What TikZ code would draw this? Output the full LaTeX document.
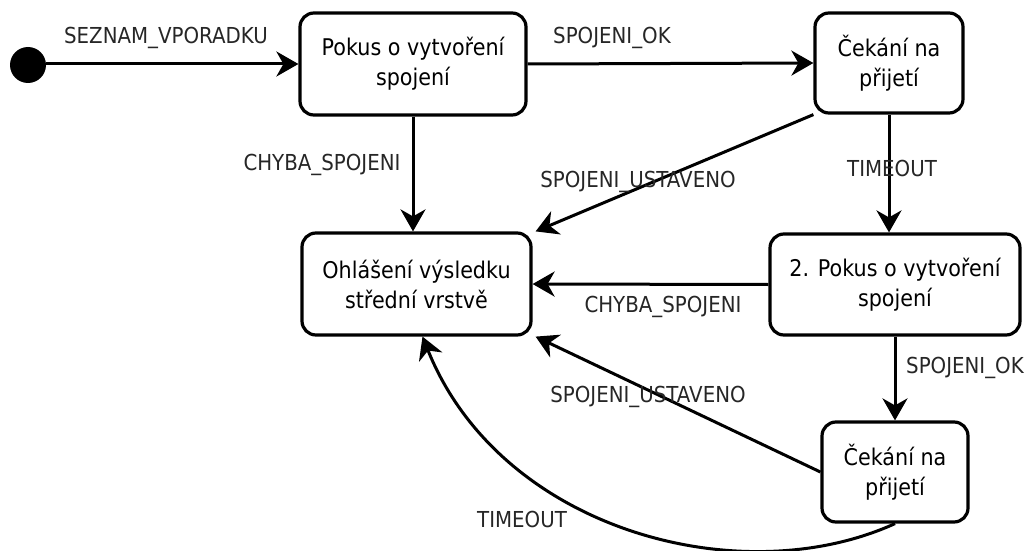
\documentclass[tikz,border=0pt]{standalone}
\usepackage{fontspec}
\setmainfont{DejaVu Sans}[FakeStretch=0.9]
\usetikzlibrary{arrows.meta}
\begin{document}
\begin{tikzpicture}[x=1pt,y=-1pt,
  every node/.style={inner sep=0pt},
  state/.style={draw, line width=3.2pt, rounded corners=14pt, align=center,
    font=\fontsize{23}{30}\selectfont},
  lbl/.style={text=black!85, font=\fontsize{22}{26}\selectfont},
  trans/.style={line width=3pt, -{Stealth[length=22pt,width=25pt,inset=7pt]}}]
  \useasboundingbox (0,0) rectangle (1034,551);

  % states
  \node[circle, fill, minimum size=36pt] (init) at (28,65) {};
  \node[state, minimum width=226pt, minimum height=102pt] (pokus1) at (413,64) {Pokus o vytvoření\\spojení};
  \node[state, minimum width=148pt, minimum height=100pt] (cekani1) at (889,63) {Čekání na\\přijetí};
  \node[state, minimum width=229pt, minimum height=102pt] (hlaseni) at (416.5,284) {Ohlášení výsledku\\střední vrstvě};
  \node[state, minimum width=250pt, minimum height=101pt] (pokus2) at (895,284.5) {2. Pokus o vytvoření\\spojení};
  \node[state, minimum width=146pt, minimum height=100pt] (cekani2) at (895,472) {Čekání na\\přijetí};

  % transitions
  \draw[trans] (init.east |- pokus1.west) -- (pokus1.west);
  \draw[trans] (pokus1.east) -- (cekani1.west);
  \draw[trans] (pokus1.south) -- (pokus1.south |- hlaseni.north);
  \draw[trans] (cekani1.south west) -- ([xshift=3pt]hlaseni.north east);
  \draw[trans] (cekani1.south) -- (cekani1.south |- pokus2.north);
  \draw[trans] (pokus2.west) -- (hlaseni.east);
  \draw[trans] (pokus2.south -| cekani2.north) -- (cekani2.north);
  \draw[trans] (cekani2.west) -- ([xshift=3pt]hlaseni.south east);
  \draw[trans] (cekani2.south) .. controls (740,594) and (500,530) .. ([xshift=6pt]hlaseni.south);

  % transition labels
  \node[lbl] (l1) at (166,38) {SEZNAM\_VPORADKU};
  \node[lbl] (l2) at (612,38) {SPOJENI\_OK};
  \node[lbl] (l3) at (322,165) {CHYBA\_SPOJENI};
  \node[lbl] (l4) at (638,182) {SPOJENI\_USTAVENO};
  \node[lbl] (l5) at (892,168) {TIMEOUT};
  \node[lbl] (l6) at (663,307) {CHYBA\_SPOJENI};
  \node[lbl, anchor=west] (l7) at (906,368) {SPOJENI\_OK};
  \node[lbl] (l8) at (648,397) {SPOJENI\_USTAVENO};
  \node[lbl] (l9) at (522,519) {TIMEOUT};
\end{tikzpicture}
\end{document}
